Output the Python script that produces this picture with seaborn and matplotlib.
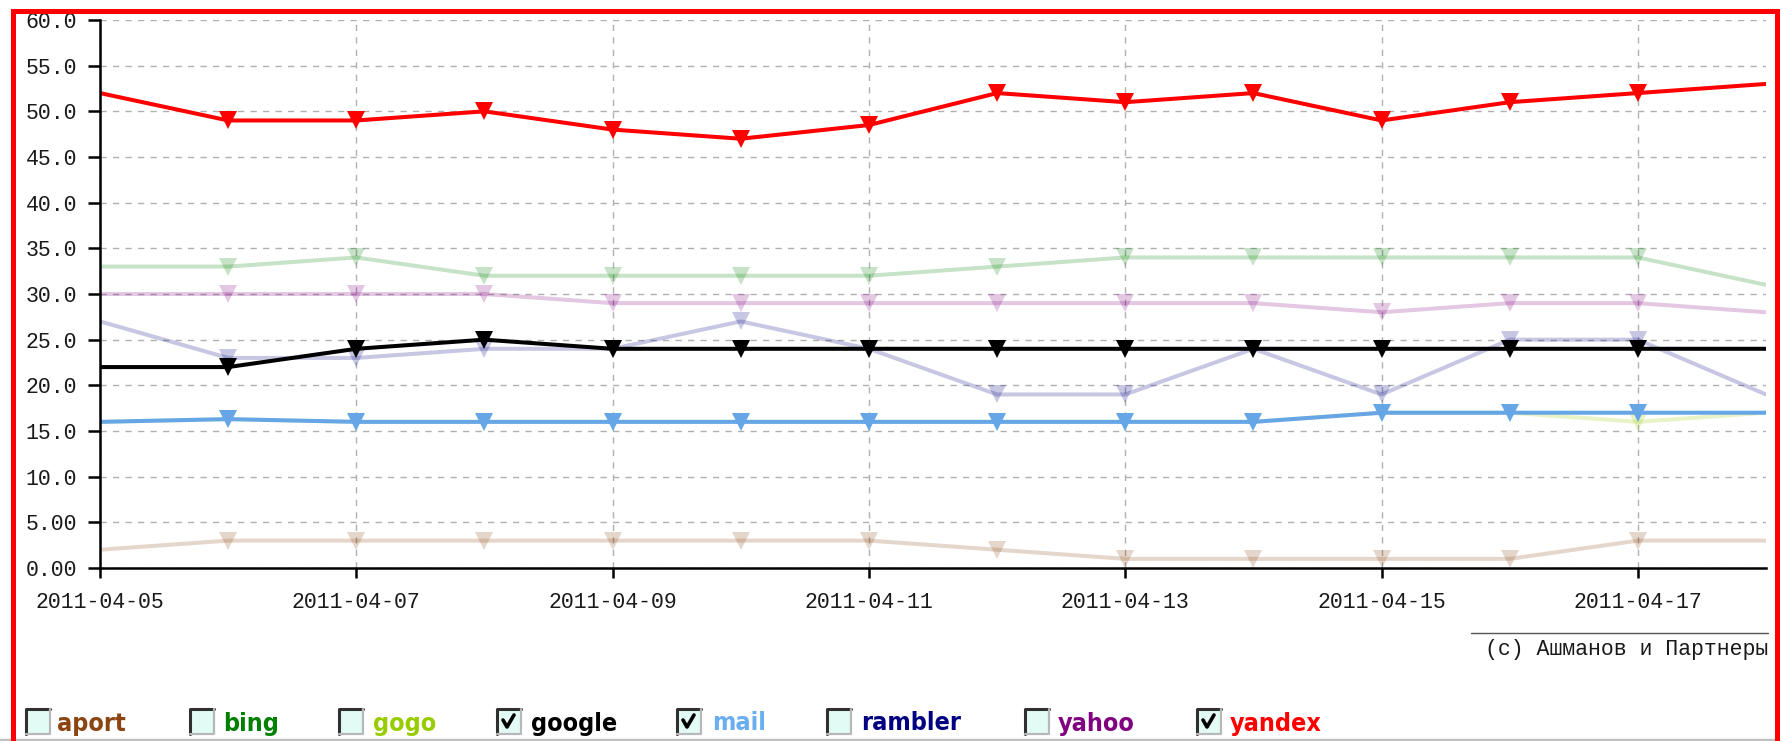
import numpy as np
import pandas as pd
import matplotlib
matplotlib.use("Agg")
import matplotlib.pyplot as plt
import seaborn as sns
from matplotlib.patches import Rectangle
from matplotlib.lines import Line2D
from matplotlib import font_manager

# ---------------- data ----------------
dates = pd.date_range("2011-04-05", "2011-04-18")
aport = [2, 3, 3, 3, 3, 3, 3, 2, 1, 1, 1, 1, 3, 3]
bing = [33, 33, 34, 32, 32, 32, 32, 33, 34, 34, 34, 34, 34, 31]
gogo = [16, 16.3, 16, 16, 16, 16, 16, 16, 16, 16, 17, 17, 16, 17]
google = [22, 22, 24, 25, 24, 24, 24, 24, 24, 24, 24, 24, 24, 24]
mail = [16, 16.3, 16, 16, 16, 16, 16, 16, 16, 16, 17, 17, 17, 17]
rambler = [27, 23, 23, 24, 24, 27, 24, 19, 19, 24, 19, 25, 25, 19]
yahoo = [30, 30, 30, 30, 29, 29, 29, 29, 29, 29, 28, 29, 29, 28]
yandex = [52, 49, 49, 50, 48, 47, 48.5, 52, 51, 52, 49, 51, 52, 53]

names = ["aport", "bing", "gogo", "google", "mail", "rambler", "yahoo", "yandex"]
series = {"aport": aport, "bing": bing, "gogo": gogo, "google": google,
          "mail": mail, "rambler": rambler, "yahoo": yahoo, "yandex": yandex}
checked = {"aport": False, "bing": False, "gogo": False, "google": True,
           "mail": True, "rambler": False, "yahoo": False, "yandex": True}
line_colors = {"aport": "#8b4513", "bing": "#008000", "gogo": "#99cc00",
               "google": "#000000", "mail": "#66a6e6", "rambler": "#000080",
               "yahoo": "#800080", "yandex": "#ff0000"}
text_colors = {"aport": "#8b4513", "bing": "#008000", "gogo": "#99cc00",
               "google": "#000000", "mail": "#6aaef0", "rambler": "#000080",
               "yahoo": "#800080", "yandex": "#ff0000"}
y_tick_values = list(range(0, 61, 5))
y_tick_labels = ["0.00", "5.00", "10.0", "15.0", "20.0", "25.0", "30.0",
                 "35.0", "40.0", "45.0", "50.0", "55.0", "60.0"]
x_tick_dates = dates[::2]
x_tick_labels = [d.strftime("%Y-%m-%d") for d in x_tick_dates]
credit = "(c) Ашманов и Партнеры"

# ---------------- style ----------------
sns.set_style("white")
plt.rcParams["font.family"] = ["Liberation Mono", "DejaVu Sans Mono"]

available = {f.name for f in font_manager.fontManager.ttflist}
legend_family = "Liberation Sans Narrow" if "Liberation Sans Narrow" in available else "DejaVu Sans"
legend_stretch = "normal" if legend_family == "Liberation Sans Narrow" else "condensed"

W, H = 1780, 741
fig = plt.figure(figsize=(W / 100, H / 100), dpi=100)


def fx(x):
    return x / W


def fy(y):
    return 1 - y / H


ax = fig.add_axes([fx(100), fy(568), fx(1766) - fx(100), fy(20) - fy(568)])

order = [n for n in names if not checked[n]] + [n for n in names if checked[n]]
for n in order:
    df = pd.DataFrame({"date": dates, "value": series[n]})
    alpha = 1.0 if checked[n] else 0.22
    sns.lineplot(data=df, x="date", y="value", ax=ax, color=line_colors[n],
                 alpha=alpha, linewidth=2.9, marker="v", markersize=12.5,
                 markeredgewidth=0, markevery=slice(1, len(dates) - 1),
                 legend=False)

ax.set_xlim(dates[0], dates[-1])
ax.set_ylim(0, 60)
ax.set_yticks(y_tick_values)
ax.set_yticklabels(y_tick_labels)
ax.set_xticks(x_tick_dates)
ax.set_xticklabels(x_tick_labels)
ax.set_xlabel("")
ax.set_ylabel("")

ax.grid(True, color="#b0b0b0", linestyle=(0, (4.5, 4.5)), linewidth=1.0)
ax.set_axisbelow(True)
for s in ["top", "right"]:
    ax.spines[s].set_visible(False)
for s in ["left", "bottom"]:
    ax.spines[s].set_color("black")
    ax.spines[s].set_linewidth(1.8)

ax.tick_params(axis="y", length=8.6, width=1.8, pad=8.0, labelsize=15.5,
               labelcolor="#1a1a1a", color="black", direction="out", left=True)
ax.tick_params(axis="x", length=7, width=1.8, pad=10.5, labelsize=15.5,
               labelcolor="#1a1a1a", color="black", direction="out", bottom=True)

# credit line and text
fig.add_artist(Line2D([fx(1471), fx(1768)], [fy(633), fy(633)], color="#555555", lw=1.0))
fig.text(fx(1768), fy(650), credit, ha="right", va="center", fontsize=15.5,
         color="#1a1a1a", family=["Liberation Mono", "DejaVu Sans Mono"])

# legend: checkboxes + coloured labels
box_x = {"aport": 26, "bing": 190, "gogo": 339, "google": 497, "mail": 677,
         "rambler": 827, "yahoo": 1025, "yandex": 1197}
text_x = {"aport": 57, "bing": 223, "gogo": 373, "google": 531, "mail": 712,
          "rambler": 861, "yahoo": 1058, "yandex": 1230}
bw, bh = 24, 25
by_top = 709
for n in names:
    x0 = box_x[n]
    fig.add_artist(Rectangle((fx(x0), fy(by_top + bh)), bw / W, bh / H,
                             facecolor="#e2fbf4", edgecolor="none"))
    # inset 3D border: dark top/left, light bottom/right
    fig.add_artist(Line2D([fx(x0), fx(x0), fx(x0 + bw)],
                          [fy(by_top + bh), fy(by_top), fy(by_top)],
                          color="#303030", lw=2.2))
    fig.add_artist(Line2D([fx(x0), fx(x0 + bw), fx(x0 + bw)],
                          [fy(by_top + bh), fy(by_top + bh), fy(by_top)],
                          color="#b8b8b8", lw=1.6))
    if checked[n]:
        fig.add_artist(Line2D([fx(x0 + 6), fx(x0 + 10), fx(x0 + 17)],
                              [fy(by_top + 11), fy(by_top + 18), fy(by_top + 6)],
                              color="black", lw=2.6))
    fig.text(fx(text_x[n]), fy(by_top + bh / 2 + 2), n, ha="left", va="center",
             fontsize=18, fontweight="bold", color=text_colors[n],
             family=legend_family, fontstretch=legend_stretch)

# bottom gray line and red frame
fig.add_artist(Line2D([0, 1], [fy(739.5), fy(739.5)], color="#c0c0c0", lw=2.5))
fig.add_artist(Line2D([fx(12.5), fx(12.5), fx(1776.5), fx(1776.5)],
                      [fy(741), fy(10.5), fy(10.5), fy(741)],
                      color="#ff0000", lw=3.6, solid_joinstyle="miter"))

fig.savefig("out.png", dpi=100, facecolor="white")
